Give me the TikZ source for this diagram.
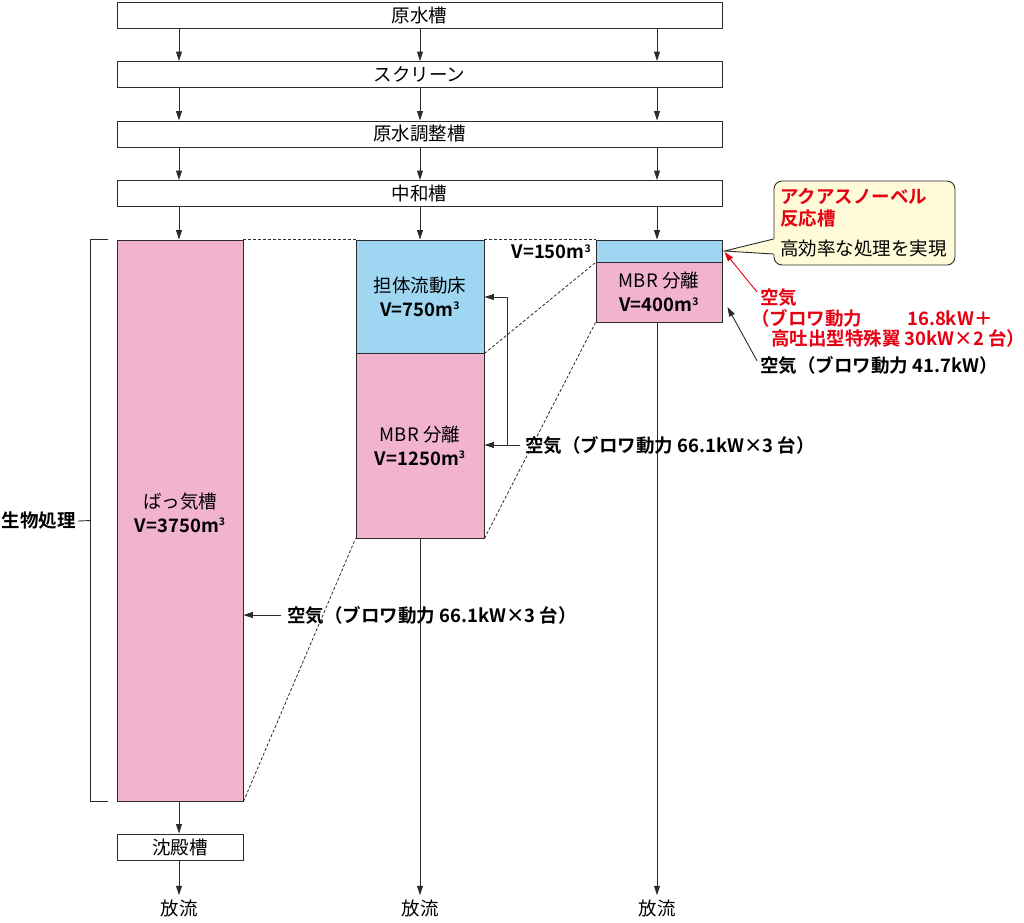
\documentclass[tikz,border=0pt]{standalone}
\usepackage{fontspec}
\setmainfont{Noto Sans CJK JP}[BoldFont={Noto Sans CJK JP Bold}]
\usetikzlibrary{arrows.meta}
\definecolor{linec}{HTML}{2B2B2B}
\definecolor{pinkf}{HTML}{F2B3CE}
\definecolor{bluef}{HTML}{9FD7F3}
\definecolor{callf}{HTML}{FFFBD8}
\definecolor{redt}{HTML}{E60012}
\newcommand\cubm{m\raisebox{0.62ex}{\fontsize{10.5}{10.5}\selectfont 3}}
\begin{document}
\begin{tikzpicture}[x=1pt,y=-1pt,
  every node/.style={font=\fontsize{18.5}{24}\selectfont, inner sep=0pt, align=center},
  box/.style={draw=linec, line width=0.9pt, fill=white, minimum height=26pt},
  tank/.style={draw=linec, line width=0.9pt},
  arr/.style={draw=linec, line width=0.9pt, -{Triangle[length=9.5pt,width=6pt]}},
  rarr/.style={draw=redt, line width=0.9pt, -{Triangle[length=9.5pt,width=6pt]}},
  ln/.style={draw=linec, line width=0.9pt},
  dsh/.style={draw=linec, line width=0.8pt, dash pattern=on 3pt off 2pt},
  bl/.style={font=\fontsize{18.5}{24}\selectfont\bfseries},
  rl/.style={font=\fontsize{18.5}{22}\selectfont\bfseries, text=redt}]
\useasboundingbox (0,0) rectangle (1024,922);

% top boxes
\node[box, minimum width=605pt] (b1) at (419.5,15) {原水槽};
\node[box, minimum width=605pt] (b2) at (419.5,74.5) {スクリーン};
\node[box, minimum width=605pt] (b3) at (419.5,134) {原水調整槽};
\node[box, minimum width=605pt] (b4) at (419.5,193.5) {中和槽};

\coordinate (cA) at (179,0);
\coordinate (cB) at (420,0);
\coordinate (cC) at (657,0);

% tanks
\node[tank, fill=pinkf, minimum width=126pt, minimum height=561pt] (t1) at (180,520.5) {};
\node (t1l) at (180,512.5) {ばっ気槽\\\textbf{V=3750\cubm}};
\node[tank, fill=bluef, minimum width=128pt, minimum height=113pt] (m1) at (420,296.5) {担体流動床\\\textbf{V=750\cubm}};
\node[tank, fill=pinkf, minimum width=128pt, minimum height=185pt] (m2) at (420,445.5) {MBR 分離\\\textbf{V=1250\cubm}};
\node[tank, fill=bluef, minimum width=126pt, minimum height=22pt] (r1) at (659,251) {};
\node[tank, fill=pinkf, minimum width=126pt, minimum height=60pt] (r2) at (659,292) {MBR 分離\\\textbf{V=400\cubm}};
\node[bl, anchor=east] (v150) at (591,252) {V=150\cubm};

% settling tank and outlets
\node[box, minimum width=126pt] (s1) at (180,847) {沈殿槽};
\node (o1) at (179,908) {放流};
\node (o2) at (420,908) {放流};
\node (o3) at (657,908) {放流};

% flow arrows
\foreach \c in {cA,cB,cC}{
  \draw[arr] (b1.south -| \c) -- (b2.north -| \c);
  \draw[arr] (b2.south -| \c) -- (b3.north -| \c);
  \draw[arr] (b3.south -| \c) -- (b4.north -| \c);
}
\draw[arr] (b4.south -| cA) -- (t1.north -| cA);
\draw[arr] (b4.south -| cB) -- (m1.north -| cB);
\draw[arr] (b4.south -| cC) -- (r1.north -| cC);
\draw[arr] (t1.south -| cA) -- (s1.north -| cA);
\draw[arr] (s1.south -| cA) -- ([yshift=4pt]o1.north);
\draw[arr] (m2.south -| cB) -- ([yshift=4pt]o2.north);
\draw[arr] (r2.south -| cC) -- ([yshift=4pt]o3.north);

% dashed correspondence lines
\draw[dsh] (t1.north east) -- (m1.north west);
\draw[dsh] (t1.south east) -- (m2.south west);
\draw[dsh] (m1.north east) -- (r1.north west);
\draw[dsh] (m1.south east) -- (r1.south west);
\draw[dsh] (m2.south east) -- (r2.south west);

% bracket
\coordinate (brM) at (91,520.5);
\draw[ln] ([xshift=-9pt]t1.north west) -- ([xshift=-26pt]t1.north west)
  -- ([xshift=-26pt]t1.south west) -- ([xshift=-9pt]t1.south west);
\node[bl, anchor=east] (bio) at (76,521) {生物処理};
\draw[ln] ([xshift=2pt]bio.east) -- (brM);

% air 1
\node[bl, anchor=west] (air1) at (287,615) {空気（ブロワ動力 66.1kW×3 台）};
\draw[arr] ([xshift=-6pt]air1.west) -- (air1.west -| t1.east);

% air 2
\node[bl, anchor=west] (air2) at (525,445) {空気（ブロワ動力 66.1kW×3 台）};
\coordinate (j2) at (507,445);
\coordinate (j1) at (507,297);
\draw[arr] ([xshift=-5pt]air2.west) -- (air2.west -| m2.east);
\draw[arr] (j2) -- (j1) -- (j1 -| m1.east);

% callout
\node[draw=linec, line width=0.9pt, fill=callf, rounded corners=8pt, minimum width=181pt, minimum height=84pt] (cal) at (864.5,223) {};
\fill[callf] ([xshift=2pt,yshift=-16pt]cal.west) -- ([xshift=2pt]r1.east) -- ([xshift=2pt,yshift=-31pt]cal.west) -- cycle;
\draw[ln] ([yshift=-16pt]cal.west) -- ([xshift=2pt]r1.east) -- ([yshift=-31pt]cal.west);
\node[rl, anchor=west, align=left] (calt) at (780,208) {アクアスノーベル\\反応槽};
\node[anchor=west] (calb) at (780,249) {高効率な処理を実現};

% red air
\node[rl, anchor=west] (ra1) at (760,298) {空気};
\node[rl, anchor=west] (ra2) at (751,318) {（ブロワ動力};
\node[rl, anchor=west] (ra3) at (907,318) {16.8kW＋};
\node[rl, anchor=west] (ra4) at (771,338) {高吐出型特殊翼 30kW×2 台）};
\draw[rarr] ([xshift=-3pt,yshift=-3pt]ra1.north west) -- ([xshift=2pt,yshift=-1pt]r1.east);

% black air
\node[bl, anchor=west] (ba) at (760,365) {空気（ブロワ動力 41.7kW）};
\draw[arr] ([xshift=-3pt,yshift=-5pt]ba.north west) -- ([xshift=5pt,yshift=-15pt]r2.east);
\end{tikzpicture}
\end{document}
